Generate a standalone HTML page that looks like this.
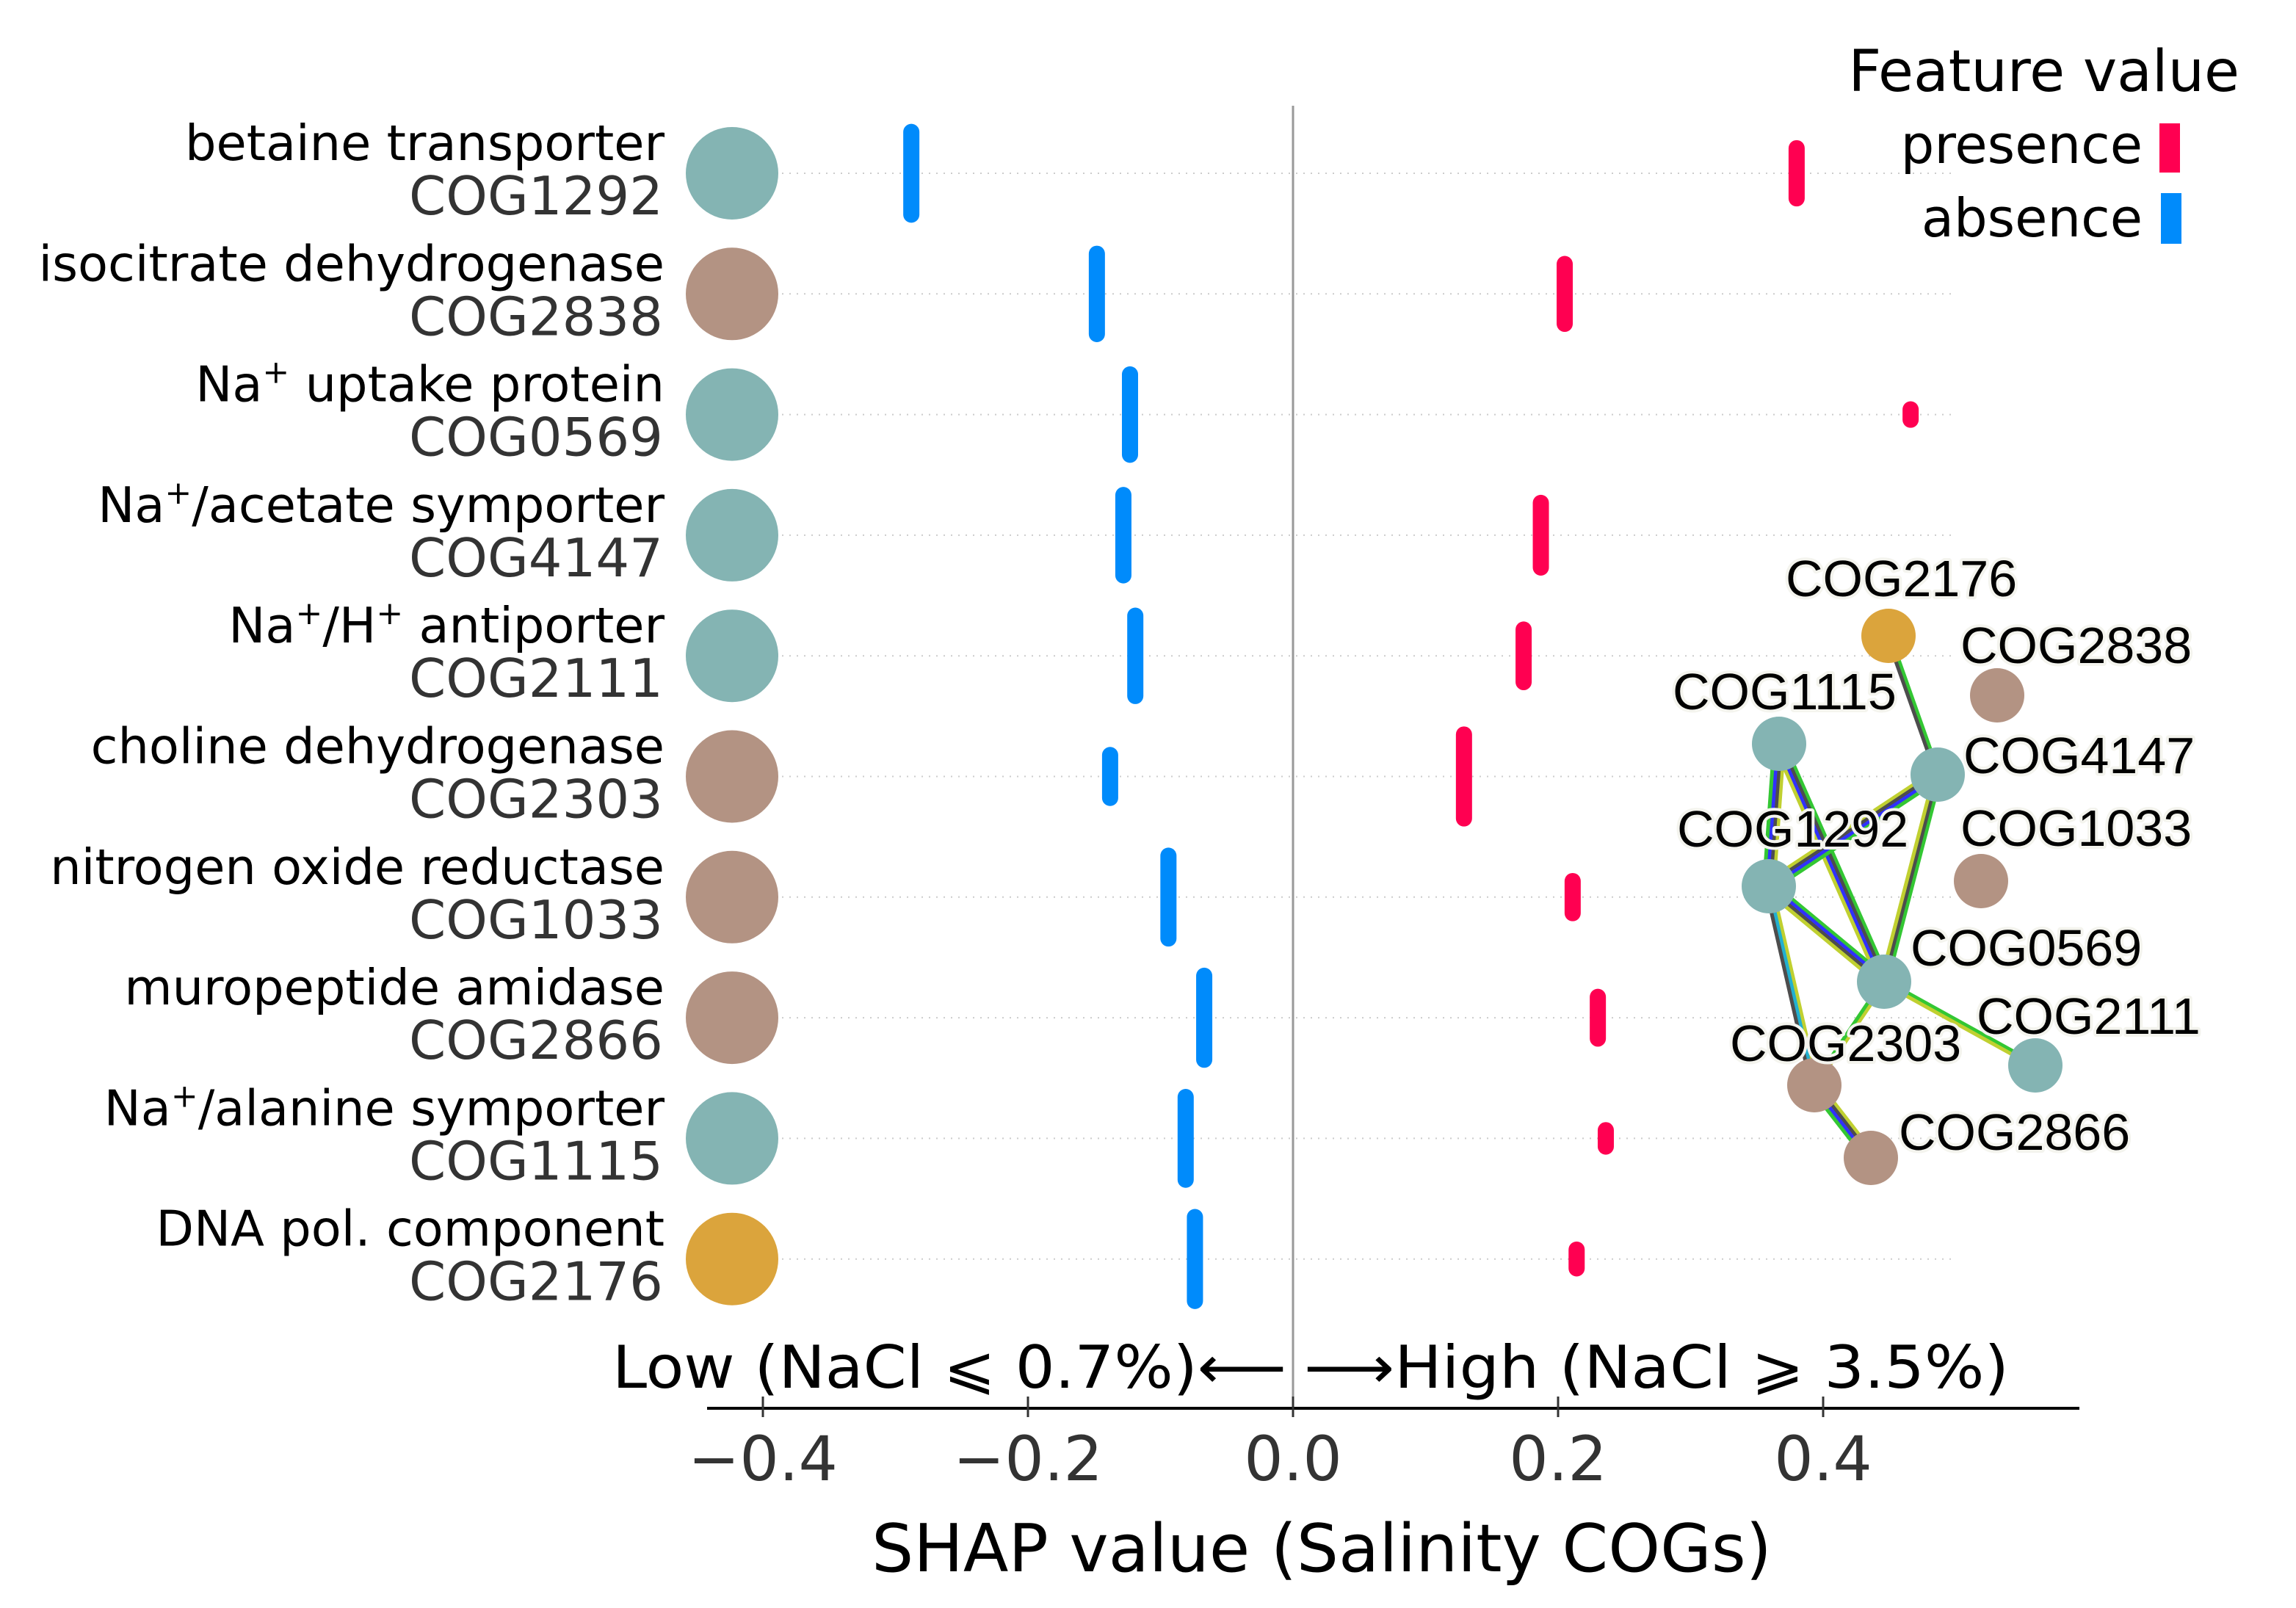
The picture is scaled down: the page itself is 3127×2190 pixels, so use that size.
<!DOCTYPE html>
<html><head><meta charset="utf-8"><style>
html,body{margin:0;padding:0;background:#fff;}
svg{display:block;}
text{font-family:"DejaVu Sans","Liberation Sans",sans-serif;}
.net{font-family:"Liberation Sans",sans-serif;font-size:70px;fill:#000;stroke:#f4f4ee;stroke-width:8px;paint-order:stroke;stroke-linejoin:round;}
</style></head><body>
<svg id="chart" width="3127" height="2190" viewBox="0 0 3127 2190" xmlns="http://www.w3.org/2000/svg">
<g id="grid"></g>
<line x1="1761" y1="144" x2="1761" y2="1920" stroke="#999" stroke-width="3"/>
<g id="rows"></g>
<g id="bars"></g>
<g id="axis"></g>
<text x="834" y="1890" font-size="80" textLength="918" lengthAdjust="spacingAndGlyphs" fill="#000">Low (NaCl ⩽ 0.7%)⟵</text>
<text x="1776" y="1890" font-size="80" textLength="960" lengthAdjust="spacingAndGlyphs" fill="#000">⟶High (NaCl ⩾ 3.5%)</text>
<text x="1800" y="2140" font-size="90" text-anchor="middle" fill="#000">SHAP value (Salinity COGs)</text>
<g>
<text x="3050" y="124" font-size="78" text-anchor="end">Feature value</text>
<text x="2918" y="222" font-size="72" text-anchor="end">presence</text>
<rect x="2941" y="168" width="28" height="67" fill="#ff0051"/>
<text x="2918" y="322" font-size="72" text-anchor="end">absence</text>
<rect x="2943" y="263" width="28" height="69" fill="#008bfb"/>
</g>
<g id="network"></g>
</svg>
<script>
const names = ["betaine transporter","isocitrate dehydrogenase","Na|+| uptake protein","Na|+|/acetate symporter","Na|+|/H|+| antiporter","choline dehydrogenase","nitrogen oxide reductase","muropeptide amidase","Na|+|/alanine symporter","DNA pol. component"];
const cogs = ["COG1292","COG2838","COG0569","COG4147","COG2111","COG2303","COG1033","COG2866","COG1115","COG2176"];
const groups = ["teal","brown","teal","teal","teal","brown","brown","brown","teal","gold"];
const absenceValues = [-0.288,-0.148,-0.123,-0.128,-0.119,-0.138,-0.094,-0.067,-0.081,-0.074];
const presenceValues = [0.380,0.205,0.466,0.187,0.174,0.129,0.211,0.230,0.236,0.214];
const absenceSpread = [0.82,0.80,0.80,0.80,0.80,0.49,0.82,0.83,0.82,0.83];
const presenceSpread = [0.55,0.63,0.22,0.67,0.57,0.83,0.40,0.48,0.27,0.29];
const tickValues = [-0.4,-0.2,0.0,0.2,0.4];
const tickLabels = ["\u22120.4","\u22120.2","0.0","0.2","0.4"];
const netNodes = ["COG2176","COG2838","COG1115","COG4147","COG1033","COG1292","COG0569","COG2111","COG2303","COG2866"];
const netNodeX = [2572,2720,2423,2639,2698,2409,2566,2772,2471,2548];
const netNodeY = [866,947,1013,1055,1200,1207,1337,1451,1478,1577];
const netLabelX = [2432,2670,2278,2674,2670,2284,2602,2692,2356,2586];
const netLabelY = [812,903,966,1053,1152,1153,1315,1408,1445,1566];
const netEdges = [["COG2176","COG4147","gk"],["COG1115","COG1292","ykbg"],["COG1115","COG0569","gkby"],["COG1292","COG4147","ykbg"],["COG4147","COG0569","gky"],["COG1292","COG0569","gbky"],["COG1292","COG2303","yck"],["COG0569","COG2111","gy"],["COG0569","COG2303","yg"],["COG2303","COG2866","ykbg"]];

const NS="http://www.w3.org/2000/svg";
const colors={teal:"#84b4b3",brown:"#b39383",gold:"#dba43c"};
const strand={g:"#33c733",k:"#4d4d4d",b:"#3030ff",y:"#c0d030",c:"#22b0d0"};
const x0=1761, pxPerUnit=1805, rowTop=236, rowStep=164.3;
function xs(v){return x0+v*pxPerUnit;}
function ys(i){return rowTop+i*rowStep;}
function mk(tag,attrs,parent){const e=document.createElementNS(NS,tag);for(const k in attrs)e.setAttribute(k,attrs[k]);parent.appendChild(e);return e;}

const grid=document.getElementById('grid'), rows=document.getElementById('rows'), bars=document.getElementById('bars'), axis=document.getElementById('axis'), net=document.getElementById('network');
names.forEach((n,i)=>{
  const y=ys(i);
  const gl=mk('line',{x1:1065,x2:2665,y1:y,y2:y,stroke:"#ccc","stroke-width":2,"stroke-dasharray":"2 8"},grid);
  
  
  const t=mk('text',{x:905,y:y-18,"font-size":67,"text-anchor":"end",fill:"#000"},rows);
  
  
  n.split('|').forEach((part,k)=>{
    const ts=mk('tspan',{},t);
    if(k%2===1){ts.setAttribute('baseline-shift','super');ts.setAttribute('font-size','44');}
    ts.textContent=part;
  });
  const c=mk('text',{x:903,y:y+56,"font-size":72,"text-anchor":"end",fill:"#333"},rows);
  
  
  c.textContent=cogs[i];
  const circ=mk('circle',{cx:997,cy:y,r:63,fill:colors[groups[i]]},rows);
  
  
  const hb=absenceSpread[i]*rowStep/2-11;
  const b=mk('line',{x1:xs(absenceValues[i]),x2:xs(absenceValues[i]),y1:y-hb,y2:y+hb,stroke:"#008bfb","stroke-width":22,"stroke-linecap":"round"},bars);
  
  
  const hr=presenceSpread[i]*rowStep/2-11;
  const r=mk('line',{x1:xs(presenceValues[i]),x2:xs(presenceValues[i]),y1:y-hr,y2:y+hr,stroke:"#ff0051","stroke-width":22,"stroke-linecap":"round"},bars);
  
  
});
const al=mk('line',{x1:963,x2:2832,y1:1918,y2:1918,stroke:"#000","stroke-width":4},axis);


tickValues.forEach((v,i)=>{
  const tk=mk('line',{x1:xs(v),x2:xs(v),y1:1902,y2:1930,stroke:"#333","stroke-width":3},axis);
  
  
  const tl=mk('text',{x:xs(v),y:2016,"font-size":84,"text-anchor":"middle",fill:"#333"},axis);
  
  
  tl.textContent=tickLabels[i];
});
const idx=id=>netNodes.indexOf(id);
const eg=mk('g',{},net), ng=mk('g',{},net), lg=mk('g',{},net);
netEdges.forEach(e=>{
  const a=idx(e[0]), b=idx(e[1]);
  const x1=netNodeX[a],y1=netNodeY[a],x2=netNodeX[b],y2=netNodeY[b];
  const dx=x2-x1,dy=y2-y1,L=Math.hypot(dx,dy),px=-dy/L,py=dx/L;
  const s=e[2], w=4.5;
  for(let k=0;k<s.length;k++){
    const off=(k-(s.length-1)/2)*w;
    const ln=mk('line',{x1:x1+px*off,y1:y1+py*off,x2:x2+px*off,y2:y2+py*off,stroke:strand[s[k]],"stroke-width":w+0.5},eg);
    
    
  }
});
netNodes.forEach((id,i)=>{
  const g=groups[cogs.indexOf(id)];
  const c=mk('circle',{cx:netNodeX[i],cy:netNodeY[i],r:37,fill:colors[g]},ng);
  
  
  const t=mk('text',{x:netLabelX[i],y:netLabelY[i],class:"net"},lg);
  
  
  t.textContent=id;
});
</script>
</body></html>
